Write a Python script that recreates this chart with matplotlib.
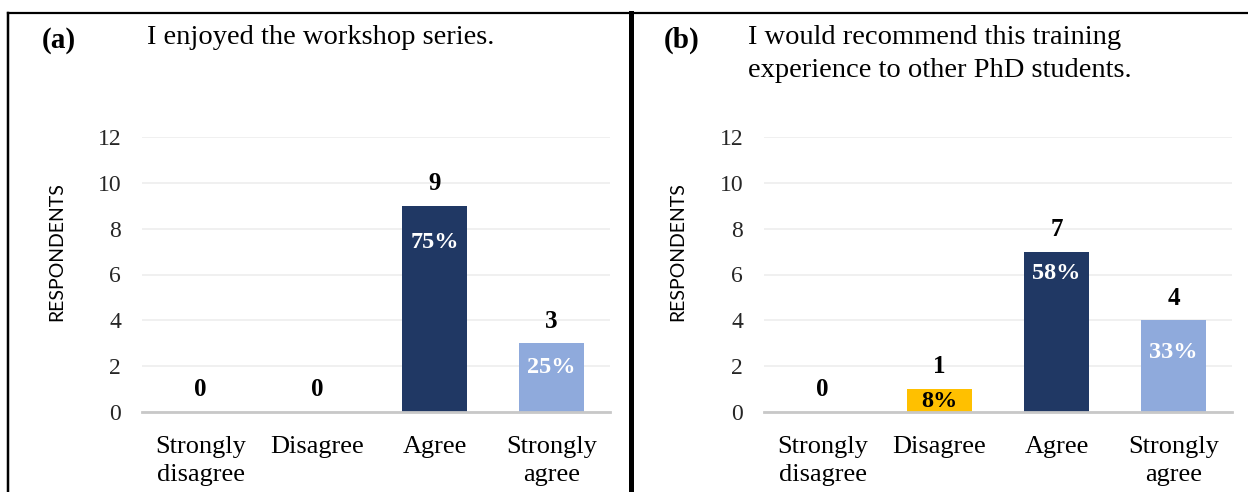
import matplotlib.pyplot as plt
from matplotlib.lines import Line2D

categories = ["Strongly\ndisagree", "Disagree", "Agree", "Strongly\nagree"]
counts_a = [0, 0, 9, 3]
counts_b = [0, 1, 7, 4]
pct_a = ["", "", "75%", "25%"]
pct_b = ["", "8%", "58%", "33%"]
title_a = "I enjoyed the workshop series."
title_b = "I would recommend this training\nexperience to other PhD students."
yticks = [0, 2, 4, 6, 8, 10, 12]

colors = ["#ffc000", "#ffc000", "#203864", "#8faadc"]
pct_colors = ["black", "black", "white", "white"]
# how far below the bar top the percent label sits (pixels)
pct_drop_a = [0, 0, 37, 24]
pct_drop_b = [0, 12, 22, 32]

W, H = 1248, 492
fig = plt.figure(figsize=(W / 100, H / 100), dpi=100)
serif = "Liberation Serif"


def px(x0, y0, x1, y1):
    # pixel box (top-left origin) -> figure fraction rect
    return [x0 / W, 1 - y1 / H, (x1 - x0) / W, (y1 - y0) / H]


def panel(rect, counts, pcts, drops, ylab_x):
    ax = fig.add_axes(rect)
    x = range(len(categories))
    ax.bar(x, counts, width=0.56, color=colors, zorder=3)
    ax.set_xlim(-0.5, 3.5)
    ax.set_ylim(0, 12)
    ax.set_yticks(yticks)
    ax.set_xticks(list(x))
    ax.set_xticklabels(categories, fontfamily=serif, fontsize=19,
                       linespacing=1.4)
    ax.set_yticklabels([str(t) for t in yticks], fontfamily=serif,
                       fontsize=17, color="#262626")
    ax.tick_params(axis="both", length=0)
    ax.tick_params(axis="y", pad=15)
    ax.tick_params(axis="x", pad=17)
    ax.grid(axis="y", color="#ededed", linewidth=1.2, zorder=0)
    for s in ["top", "right", "left"]:
        ax.spines[s].set_visible(False)
    ax.spines["bottom"].set_color("#c8c8c8")
    ax.spines["bottom"].set_linewidth(2)
    ax.spines["bottom"].set_zorder(4)
    for i, (c, p) in enumerate(zip(counts, pcts)):
        ax.annotate(str(c), (i, c), xytext=(0, 16), textcoords="offset points",
                    ha="center", va="center", fontfamily=serif,
                    fontsize=18, fontweight="bold", color="black")
        if p:
            ax.annotate(p, (i, c), xytext=(0, -drops[i] * 0.72),
                        textcoords="offset points",
                        ha="center", va="center", fontfamily=serif,
                        fontsize=17.5, fontweight="bold", color=pct_colors[i],
                        zorder=5)
    fig.text(ylab_x / W, 1 - 252 / H, "RESPONDENTS", rotation=90,
             ha="center", va="center", fontfamily="Lato", fontsize=14)
    return ax


panel(px(142, 137, 610, 412), counts_a, pct_a, pct_drop_a, 57)
panel(px(764, 137, 1232, 412), counts_b, pct_b, pct_drop_b, 678)

fig.text(42 / W, 1 - 40 / H, "(a)", fontfamily=serif, fontweight="bold",
         fontsize=21, va="center")
fig.text(147 / W, 1 - 38 / H, title_a, fontfamily=serif, fontsize=20.5,
         va="center")
fig.text(664 / W, 1 - 40 / H, "(b)", fontfamily=serif, fontweight="bold",
         fontsize=21, va="center")
fig.text(748 / W, 1 - 54 / H, title_b, fontfamily=serif, fontsize=20.5,
         va="center", linespacing=1.38)

# panel frames
frame = [((8, 8), (13, H)), ((8, 630), (13, 13)), ((630.5, 630.5), (13, H)),
         ((630.5, W), (13, 13))]
for (xs, ys), lw in zip(frame, [2.5, 2.2, 5, 2.2]):
    fig.add_artist(Line2D([v / W for v in xs], [1 - v / H for v in ys],
                          color="black", linewidth=lw * 0.72,
                          transform=fig.transFigure))

fig.savefig("out.png", dpi=100)
